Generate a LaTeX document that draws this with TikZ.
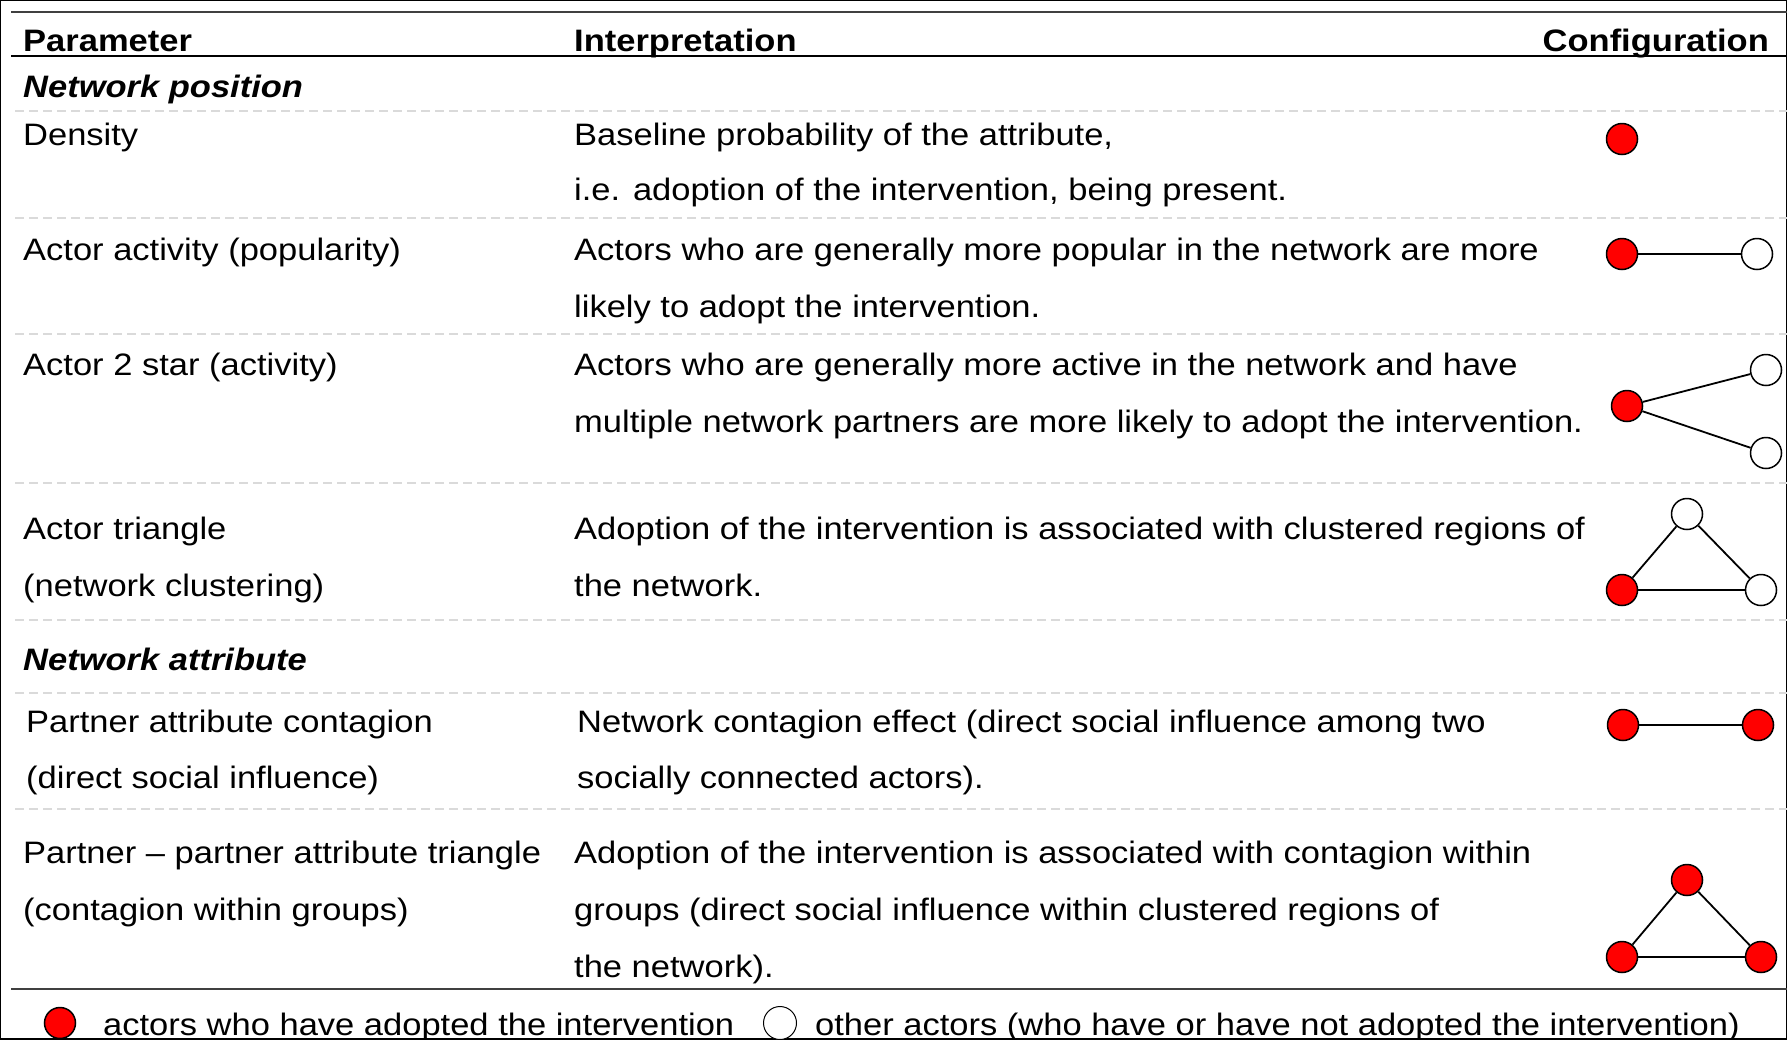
\documentclass[tikz,border=0pt]{standalone}
\usepackage{fontspec}
\setmainfont{Liberation Sans}[FakeStretch=1.113]
\newcommand{\bodyfont}{\fontsize{31}{37}\selectfont}
\definecolor{adopt}{HTML}{FF0000}
\definecolor{dashgray}{HTML}{DADADA}
\definecolor{rulegray}{HTML}{404040}
\begin{document}
\begin{tikzpicture}[x=1pt,y=-1pt,
  txt/.style={anchor=base west,inner sep=0pt,font=\bodyfont},
  hdr/.style={txt,font=\bodyfont\bfseries},
  sec/.style={txt,font=\bodyfont\bfseries\itshape},
  actor/.style={circle,draw=black,line width=1.5pt,minimum size=31pt,inner sep=0pt},
  red/.style={actor,fill=adopt},
  white/.style={actor,fill=white},
  tie/.style={draw=black,line width=1.8pt},
  sep/.style={draw=dashgray,line width=1.6pt,dash pattern=on 9pt off 5pt},
  toprule/.style={draw=rulegray,line width=2.5pt},
  midrule/.style={draw=black,line width=1.5pt},
  botrule/.style={draw=rulegray,line width=2pt}]
\useasboundingbox (0,0) rectangle (1787,1039);
\fill[white] (0,0) rectangle (1787,1039);

% rules
\coordinate (t0) at (11,12); \coordinate (t1) at (1787,12);
\coordinate (h0) at (11,56); \coordinate (h1) at (1787,56);
\coordinate (b0) at (11,989); \coordinate (b1) at (1787,989);
\path[toprule] (t0) -- (t1);
\path[midrule] (h0) -- (h1);
\path[botrule] (b0) -- (b1);
\foreach \yy/\nm in {111/d1,218/d2,334/d3,483/d4,620/d5,693/d6,809/d7}{
  \coordinate (\nm a) at (15,\yy); \coordinate (\nm b) at (1787,\yy);
  \path[sep] (\nm a) -- (\nm b);
}

% header
\node[hdr] (hparam) at (23,51) {Parameter};
\node[hdr] (hinterp) at (574,51) {Interpretation};
\node[hdr,anchor=base east] (hconf) at (1769,51) {Configuration};

% Network position
\node[sec] (secpos) at (23,97) {Network position};

\node[txt] (densA) at (23,145) {Density};
\node[txt] (densB) at (574,145) {Baseline probability of the attribute,};
\node[txt] (densC) at (574,200) {i.e. adoption of the intervention, being present.};

\node[txt] (actA) at (23,260.5) {Actor activity (popularity)};
\node[txt] (actB) at (574,260.5) {Actors who are generally more popular in the network are more};
\node[txt] (actC) at (574,317) {likely to adopt the intervention.};

\node[txt] (starA) at (23,375.5) {Actor 2 star (activity)};
\node[txt] (starB) at (574,375.5) {Actors who are generally more active in the network and have};
\node[txt] (starC) at (574,432) {multiple network partners are more likely to adopt the intervention.};

\node[txt] (triA) at (23,539) {Actor triangle};
\node[txt] (triA2) at (23,596) {(network clustering)};
\node[txt] (triB) at (574,539) {Adoption of the intervention is associated with clustered regions of};
\node[txt] (triC) at (574,596) {the network.};

% Network attribute
\node[sec] (secatt) at (23,670) {Network attribute};

\node[txt] (conA) at (26,732) {Partner attribute contagion};
\node[txt] (conA2) at (26,788) {(direct social influence)};
\node[txt] (conB) at (577,732) {Network contagion effect (direct social influence among two};
\node[txt] (conC) at (577,788) {socially connected actors).};

\node[txt] (ppA) at (23,863) {Partner -- partner attribute triangle};
\node[txt] (ppA2) at (23,920) {(contagion within groups)};
\node[txt] (ppB) at (574,863) {Adoption of the intervention is associated with contagion within};
\node[txt] (ppC) at (574,920) {groups (direct social influence within clustered regions of};
\node[txt] (ppD) at (574,977) {the network).};

% configurations
\node[red] (c1) at (1622,139) {};

\node[red] (c2a) at (1622,254) {};
\node[white] (c2b) at (1757,254) {};
\path[tie] (c2a) -- (c2b);

\node[red] (c3a) at (1627,406) {};
\node[white] (c3b) at (1766,370) {};
\node[white] (c3c) at (1766,453) {};
\path[tie] (c3a) -- (c3b);
\path[tie] (c3a) -- (c3c);

\node[white] (c4t) at (1687,514) {};
\node[red] (c4l) at (1622,590) {};
\node[white] (c4r) at (1761,590) {};
\path[tie] (c4l) -- (c4t);
\path[tie] (c4t) -- (c4r);
\path[tie] (c4l) -- (c4r);

\node[red] (c5a) at (1623,725) {};
\node[red] (c5b) at (1758,725) {};
\path[tie] (c5a) -- (c5b);

\node[red] (c6t) at (1687,880) {};
\node[red] (c6l) at (1622,957) {};
\node[red] (c6r) at (1761,957) {};
\path[tie] (c6l) -- (c6t);
\path[tie] (c6t) -- (c6r);
\path[tie] (c6l) -- (c6r);

% legend
\node[red] (lgred) at (60,1023) {};
\node[txt] (lgredt) at (103,1035) {actors who have adopted the intervention};
\node[white,line width=1pt,minimum size=33pt] (lgwhite) at (780,1023) {};
\node[txt] (lgwhitet) at (815,1035) {other actors (who have or have not adopted the intervention)};
\end{tikzpicture}
\end{document}
